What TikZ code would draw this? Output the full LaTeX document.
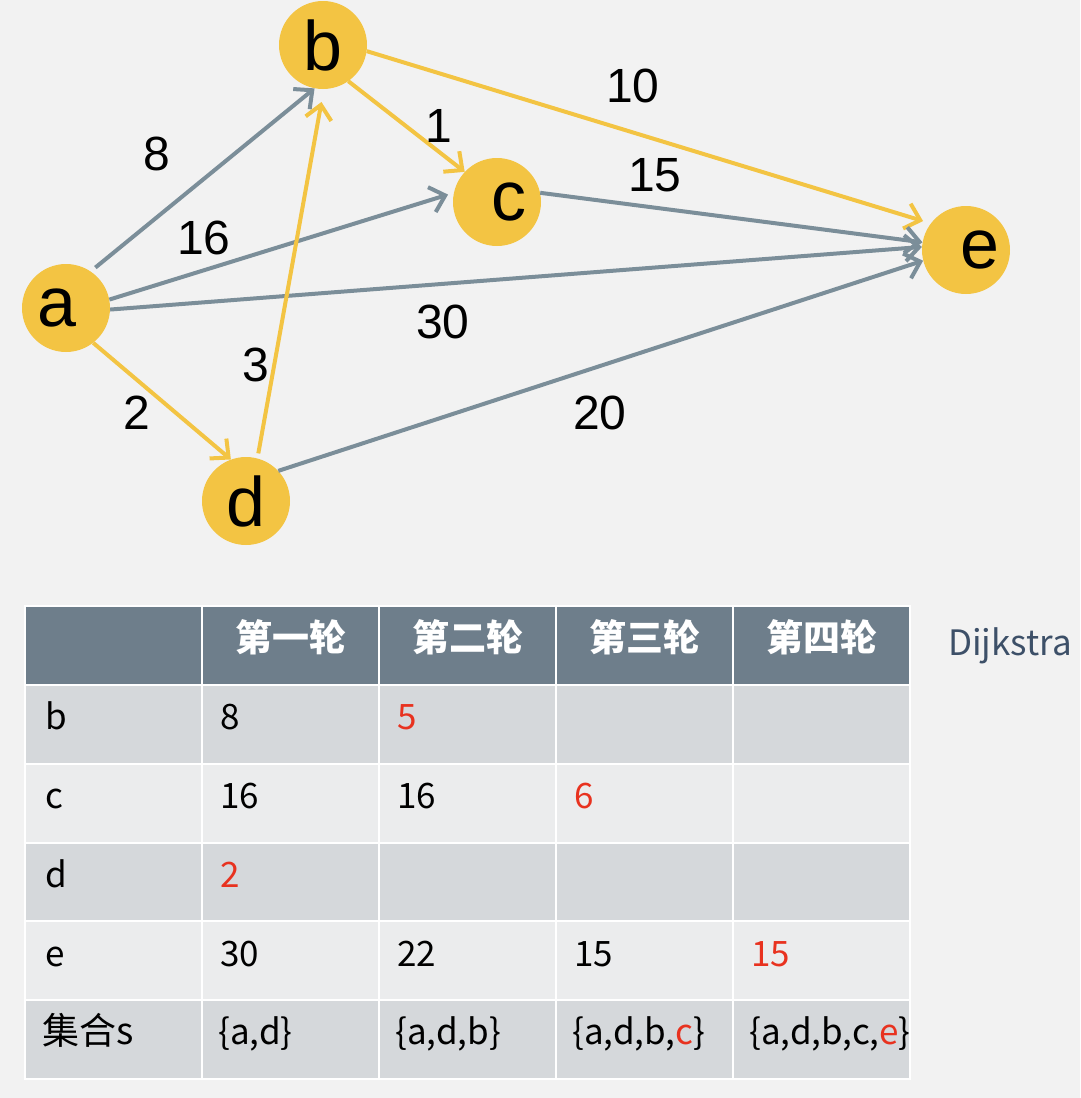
\documentclass[tikz,border=0pt]{standalone}
\usepackage{fontspec}
\setmainfont{Liberation Sans}
\newfontfamily\cjk{Noto Sans CJK SC}
\usepackage{tikz}
\usetikzlibrary{arrows.meta}
\definecolor{bggray}{HTML}{F2F2F2}
\definecolor{vtxyellow}{HTML}{F3C443}
\definecolor{edgegray}{HTML}{7B8E99}
\definecolor{headgray}{HTML}{6E7E8B}
\definecolor{rowdark}{HTML}{D5D8DB}
\definecolor{rowlight}{HTML}{EBECED}
\definecolor{hired}{HTML}{E8321F}
\definecolor{titleblue}{HTML}{3D5068}

\begin{document}
\begin{tikzpicture}[x=1pt, y=-1pt, >={Straight Barb[length=14pt,width=26pt]},
  vtx/.style={circle, fill=vtxyellow, minimum size=88pt, inner sep=0pt, font=\fontsize{70}{70}\selectfont},
  wgt/.style={inner sep=0pt, font=\fontsize{48}{48}\selectfont},
  grayedge/.style={->, draw=edgegray, line width=4pt},
  yellowedge/.style={->, draw=vtxyellow, line width=4pt},
  cell/.style={anchor=base west, inner sep=0pt, font=\cjk\fontsize{35}{35}\selectfont},
  head/.style={anchor=base, inner sep=0pt, text=white, font=\cjk\bfseries\fontsize{37}{37}\selectfont}]
\path[use as bounding box, fill=bggray] (0,0) rectangle (1080,1098);

% graph
\node[vtx] (a) at (66,308) {a\hspace*{18pt}};
\node[vtx] (b) at (323,45) {b};
\node[vtx] (c) at (497,202) {\hspace*{24pt}c};
\node[vtx] (d) at (246,501) {d};
\node[vtx] (e) at (966,250) {\hspace*{28pt}e};

\draw[grayedge, shorten <=6pt] (a.56) -- (b.259);
\draw[grayedge, shorten >=6pt] (a.11) -- (c.168);
\draw[grayedge] (a.-2) -- (e.176);
\draw[yellowedge] (a.-52) -- (d.110);
\draw[yellowedge, shorten <=5pt, shorten >=13pt] (d.75) -- (b.-89);
\draw[yellowedge] (b.-55) -- (c.137);
\draw[yellowedge, shorten >=8pt] (b.-8) -- (e.143);
\draw[grayedge] (c.12) -- (e.170);
\draw[grayedge] (d.43) -- (e.194);

\node[wgt] (w8) at (157,154) {8};
\node[wgt] (w16) at (204,238) {16};
\node[wgt] (w30) at (443,322) {30};
\node[wgt] (w3) at (256,365) {3};
\node[wgt] (w2) at (137,413) {2};
\node[wgt] (w1) at (439,126) {1};
\node[wgt] (w10) at (633,86) {10};
\node[wgt] (w15) at (655,175) {15};
\node[wgt] (w20) at (600,413) {20};

% table
\fill[headgray] (25,606) rectangle (910,685);
\foreach \top/\clr in {685/rowdark, 764/rowlight, 843/rowdark, 921/rowlight, 1000/rowdark}
  \fill[\clr] (25,\top) rectangle (910,\top+79);
\foreach \x in {202,379,556,733}
  \draw[white, line width=2pt] (\x,606) -- (\x,1079);
\foreach \y in {685,764,843,921,1000}
  \draw[white, line width=2pt] (25,\y) -- (910,\y);
\draw[white, line width=2pt] (25,606) rectangle (910,1079);

\foreach \t [count=\i] in {第一轮,第二轮,第三轮,第四轮}
  \node[head] (h\i) at ({113.5+177*\i},651) {\t};

\node[cell] (rb) at (45,729) {b};
\node[cell] (b1) at (220,729) {8};
\node[cell, text=hired] (b2) at (397,729) {5};

\node[cell] (rc) at (45,808) {c};
\node[cell] (c1) at (220,808) {16};
\node[cell] (c2) at (397,808) {16};
\node[cell, text=hired] (c3) at (574,808) {6};

\node[cell] (rd) at (45,887) {d};
\node[cell, text=hired] (d1) at (220,887) {2};

\node[cell] (re) at (45,966) {e};
\node[cell] (e1) at (220,966) {30};
\node[cell] (e2) at (397,966) {22};
\node[cell] (e3) at (574,966) {15};
\node[cell, text=hired] (e4) at (751,966) {15};

\node[cell, font=\cjk\fontsize{37}{37}\selectfont] (rs) at (42,1044) {集合s};
\node[cell] (s1) at (218,1044) {\{a,d\}};
\node[cell] (s2) at (395,1044) {\{a,d,b\}};
\node[cell] (s3) at (572,1044) {\{a,d,b,\textcolor{hired}{c}\}};
\node[cell] (s4) at (749,1044) {\{a,d,b,c,\textcolor{hired}{e}\}};

\node[anchor=base west, inner sep=0pt, text=titleblue, font=\cjk\fontsize{35}{35}\selectfont] (title) at (948,655) {Dijkstra};
\end{tikzpicture}
\end{document}
